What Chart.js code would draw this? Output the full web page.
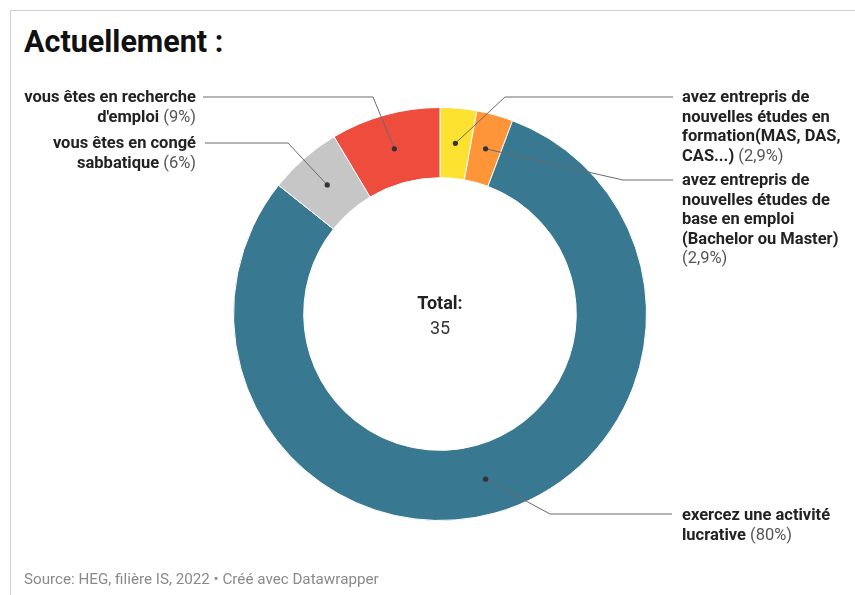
<!DOCTYPE html>
<html>
<head>
<meta charset="utf-8">
<script src="https://cdn.jsdelivr.net/npm/chart.js@4.4.1/dist/chart.umd.min.js"></script>
<style>
  html, body { margin: 0; padding: 0; background: #fff; }
  body { width: 855px; height: 595px; position: relative; overflow: hidden; font-family: Roboto, "Noto Sans", sans-serif; }
  #frame { position: absolute; left: 10px; top: 10px; width: 860px; height: 600px; border-left: 1px solid #cfcfcf; border-top: 1px solid #cfcfcf; }
  #title { position: absolute; left: 24px; top: 24px; font-size: 30.5px; font-weight: 700; color: #111; line-height: 36px; }
  #chartBox { position: absolute; left: 0; top: 0; width: 855px; height: 595px; }
  .lbl { position: absolute; font-size: 16.5px; line-height: 19.6px; color: #222; font-weight: 700; white-space: nowrap; }
  .lbl .pct { font-weight: 400; color: #555; }
  .right { text-align: right; }
  #center { position: absolute; left: 340px; width: 200px; top: 290px; text-align: center; font-size: 18px; line-height: 25px; color: #333; }
  #center b { color: #222; }
  #footer { position: absolute; left: 24px; top: 570px; font-size: 15.2px; color: #8a8a8a; line-height: 18px; }
</style>
</head>
<body>
<div id="frame"></div>
<div id="title">Actuellement :</div>
<div id="chartBox"><canvas id="c" width="855" height="595"></canvas></div>
<div id="center"><b>Total:</b><br>35</div>
<div id="footer">Source: HEG, filière IS, 2022 • Créé avec Datawrapper</div>
<script>
// ---- data ----
const categories = [
  "avez entrepris de nouvelles études en formation(MAS, DAS, CAS...)",
  "avez entrepris de nouvelles études de base en emploi (Bachelor ou Master)",
  "exercez une activité lucrative",
  "vous êtes en congé sabbatique",
  "vous êtes en recherche d'emploi"
];
const counts = [1, 1, 28, 2, 3];
const pctLabels = ["(2,9%)", "(2,9%)", "(80%)", "(6%)", "(9%)"];
const labelLines = [
  ["avez entrepris de", "nouvelles études en", "formation(MAS, DAS,", "CAS...)"],
  ["avez entrepris de", "nouvelles études de", "base en emploi", "(Bachelor ou Master)", ""],
  ["exercez une activité", "lucrative"],
  ["vous êtes en congé", "sabbatique"],
  ["vous êtes en recherche", "d'emploi"]
];
const colors = ["#fde130", "#fe9539", "#387891", "#c6c6c6", "#ee4d3d"];

// ---- layout (label placement, leader elbows) ----
const labelLayout = [
  { side: "right", x: 682, top: 87, lineY: 97, elbow: [505, 97], end: 673 },
  { side: "right", x: 682, top: 170, lineY: 180, elbow: [623, 180], end: 673 },
  { side: "right", x: 682, top: 505, lineY: 514, elbow: [550, 514], end: 672 },
  { side: "left", x: 196, top: 133, lineY: 143, elbow: [288, 143], end: 205 },
  { side: "left", x: 196, top: 87, lineY: 97, elbow: [373, 97], end: 203 }
];

// build HTML labels
labelLines.forEach((lines, i) => {
  const L = labelLayout[i];
  const d = document.createElement("div");
  d.className = "lbl" + (L.side === "left" ? " right" : "");
  d.style.top = L.top + "px";
  if (L.side === "left") { d.style.right = (855 - L.x) + "px"; } else { d.style.left = L.x + "px"; }
  let html = "";
  lines.forEach((ln, k) => {
    const last = k === lines.length - 1;
    if (last) {
      html += (ln ? ln + " " : "") + '<span class="pct">' + pctLabels[i] + "</span>";
    } else {
      html += ln + "<br>";
    }
  });
  d.innerHTML = html;
  document.body.appendChild(d);
});

const leaderPlugin = {
  id: "leaders",
  afterDatasetsDraw(chart) {
    const ctx = chart.ctx;
    const meta = chart.getDatasetMeta(0);
    meta.data.forEach((arc, i) => {
      const p = arc.getProps(["x", "y", "startAngle", "endAngle", "innerRadius", "outerRadius"], true);
      const mid = (p.startAngle + p.endAngle) / 2;
      const r = (p.innerRadius + p.outerRadius) / 2;
      const dx = p.x + Math.cos(mid) * r;
      const dy = p.y + Math.sin(mid) * r;
      const L = labelLayout[i];
      ctx.save();
      ctx.strokeStyle = "#6b6b6b";
      ctx.lineWidth = 1;
      ctx.beginPath();
      ctx.moveTo(dx, dy);
      ctx.lineTo(L.elbow[0], L.elbow[1]);
      ctx.lineTo(L.end, L.lineY);
      ctx.stroke();
      ctx.fillStyle = "#333";
      ctx.beginPath();
      ctx.arc(dx, dy, 2.6, 0, Math.PI * 2);
      ctx.fill();
      ctx.restore();
    });
  }
};

new Chart(document.getElementById("c"), {
  type: "doughnut",
  data: {
    labels: categories,
    datasets: [{
      data: counts,
      backgroundColor: colors,
      borderColor: "#ffffff",
      borderWidth: 1
    }]
  },
  options: {
    responsive: false,
    animation: false,
    cutout: "66%",
    layout: { padding: { left: 233, right: 208, top: 107, bottom: 74 } },
    plugins: { legend: { display: false }, tooltip: { enabled: false } }
  },
  plugins: [leaderPlugin]
});
</script>
</body>
</html>
